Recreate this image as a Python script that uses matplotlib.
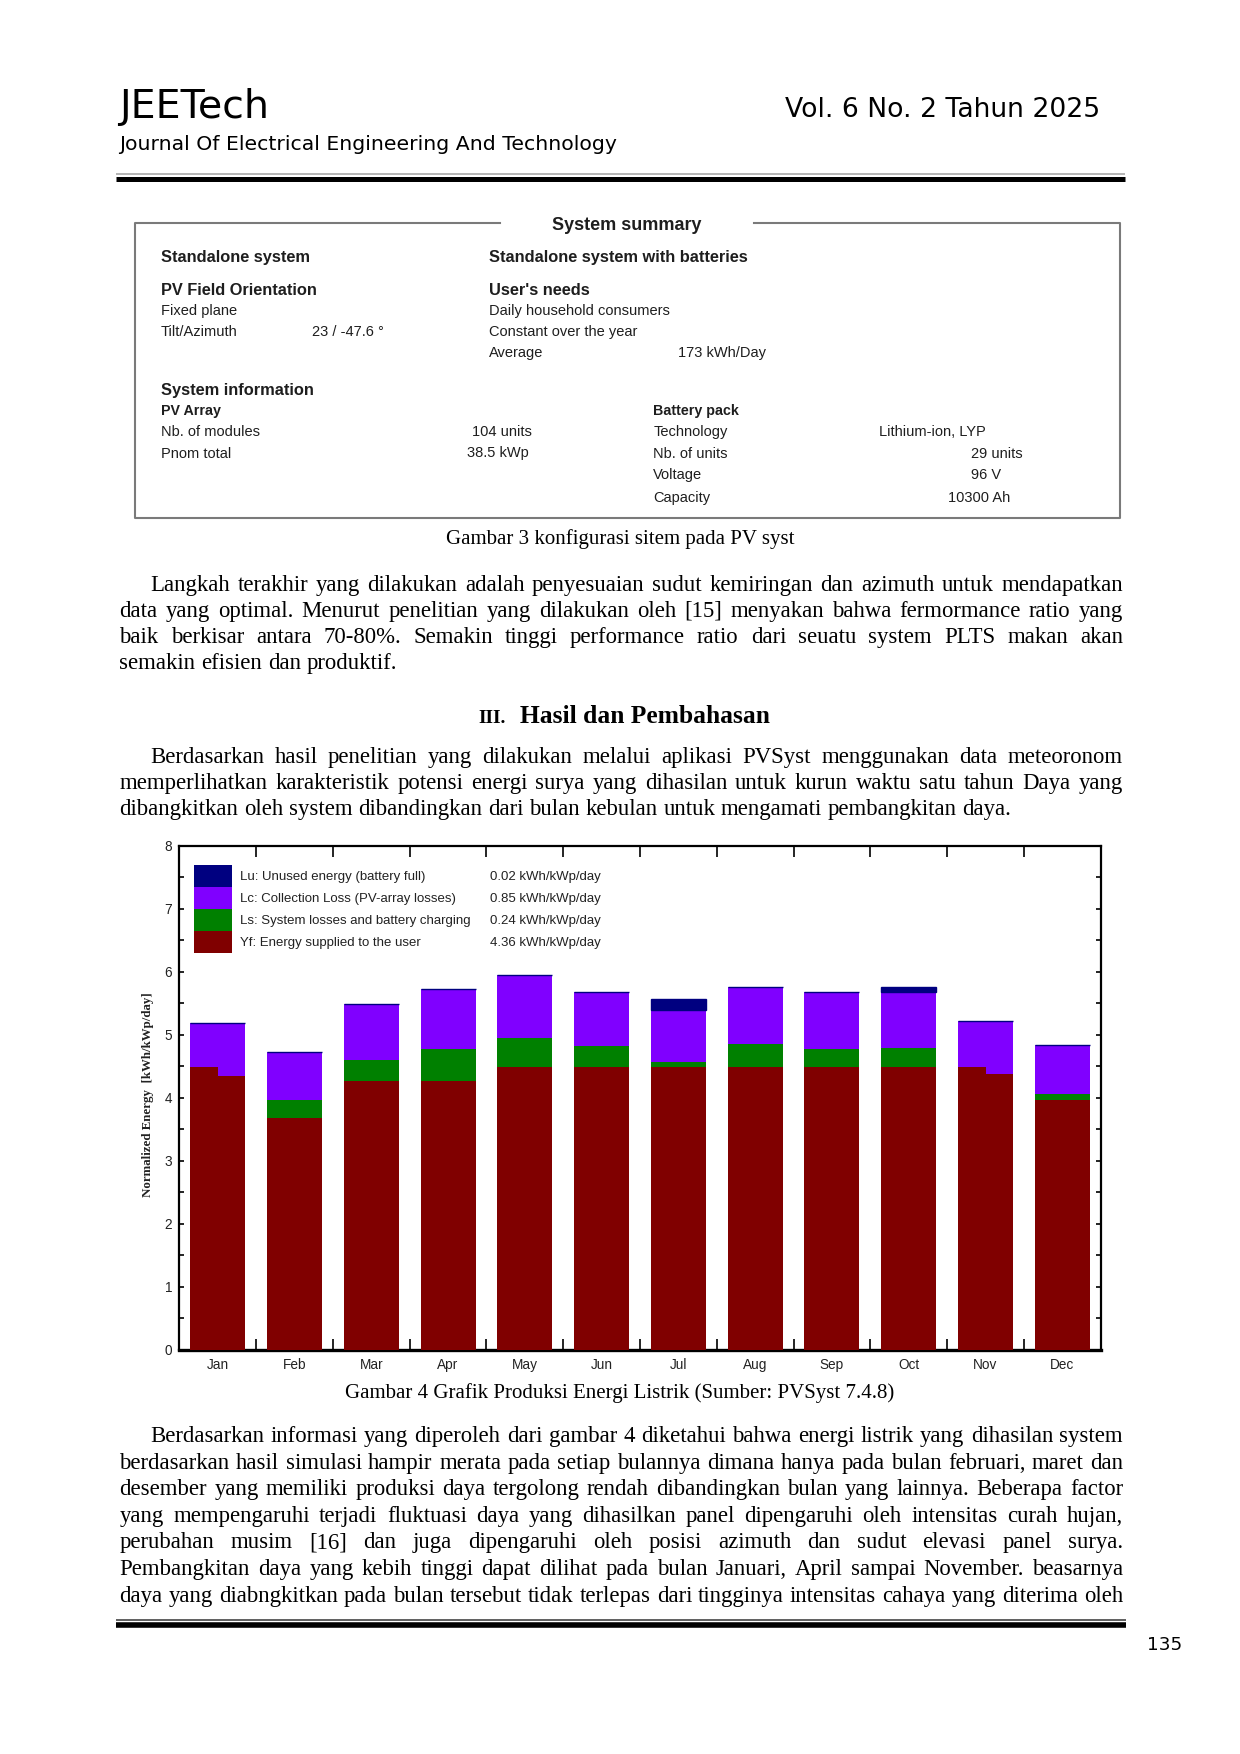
import matplotlib
matplotlib.use('Agg')
import matplotlib.pyplot as plt
from matplotlib import font_manager
from matplotlib.lines import Line2D
from matplotlib.patches import Rectangle
import numpy as np

W, H = 1240, 1754

# ---------------- data ----------------
months = ['Jan', 'Feb', 'Mar', 'Apr', 'May', 'Jun', 'Jul', 'Aug', 'Sep', 'Oct', 'Nov', 'Dec']
yf = [4.34, 3.68, 4.27, 4.27, 4.48, 4.48, 4.48, 4.48, 4.48, 4.48, 4.37, 3.97]
yf_left = [4.48, 3.68, 4.27, 4.27, 4.48, 4.48, 4.48, 4.48, 4.48, 4.48, 4.48, 3.97]
ls = [0.00, 0.29, 0.33, 0.50, 0.47, 0.34, 0.09, 0.38, 0.29, 0.31, 0.00, 0.09]
lc = [0.84, 0.76, 0.89, 0.96, 0.99, 0.86, 0.82, 0.89, 0.91, 0.89, 0.84, 0.78]
lu = [0.00, 0.00, 0.00, 0.00, 0.00, 0.00, 0.18, 0.00, 0.00, 0.08, 0.00, 0.00]

legend_labels = ['Lu: Unused energy (battery full)',
                 'Lc: Collection Loss (PV-array losses)',
                 'Ls: System losses and battery charging',
                 'Yf: Energy supplied to the user']
legend_values = ['0.02 kWh/kWp/day', '0.85 kWh/kWp/day', '0.24 kWh/kWp/day', '4.36 kWh/kWp/day']
C_YF, C_LS, C_LC, C_LU = '#800000', '#008000', '#8000FF', '#000080'
legend_colors = [C_LU, C_LC, C_LS, C_YF]

# ---------------- fonts ----------------
avail = {f.name for f in font_manager.fontManager.ttflist}
NARROW = 'Liberation Sans Narrow' if 'Liberation Sans Narrow' in avail else 'Liberation Sans'
ARIAL = 'Liberation Sans'
SERIF = 'Liberation Serif'
HEAD = 'DejaVu Sans'

fig = plt.figure(figsize=(W / 100, H / 100), dpi=100)
fig.patch.set_facecolor('white')
renderer = fig.canvas.get_renderer()


def ftext(x, y, s, **kw):
    return fig.text(x / W, 1 - y / H, s, **kw)


def wid(t):
    return t.get_window_extent(renderer).width


def fit_text(x, y, s, target_w, family, **kw):
    t = ftext(x, y, s, fontsize=20, family=family, **kw)
    t.set_fontsize(20 * target_w / wid(t))
    return t


def put_line(line, x0, x1, y, size, family, justify=True, **kw):
    words = line.split()
    ts = [ftext(x0, y, w, fontsize=size, family=family, va='baseline', **kw) for w in words]
    ws = [wid(t) for t in ts]
    if justify and len(words) > 1:
        gap = (x1 - x0 - sum(ws)) / (len(words) - 1)
    else:
        gap = size * 0.25 * 100 / 72
    x = x0
    for t, w in zip(ts, ws):
        t.set_x(x / W)
        x += w + gap


def hline(x0, x1, y, lw, color):
    fig.add_artist(Line2D([x0 / W, x1 / W], [1 - y / H, 1 - y / H], lw=lw, color=color,
                          transform=fig.transFigure, solid_capstyle='butt'))


# ---------------- header ----------------
fit_text(119.5, 118, 'JEETech', 150, HEAD, va='baseline', color='black')
fit_text(119.5, 149.5, 'Journal Of Electrical Engineering And Technology', 497, HEAD,
         va='baseline', color='black')
fit_text(1100, 117, 'Vol. 6 No. 2 Tahun 2025', 315, HEAD, va='baseline', ha='right', color='black')
hline(116, 1125, 174, 1.1, '#a0a0a0')
hline(116, 1125, 178.5, 3.6, 'black')

# ---------------- system summary box ----------------
BOXC = '#7a7a7a'
xs = [500, 135, 135, 1120, 1120, 754]
ys = [222.7, 222.7, 518, 518, 222.7, 222.7]
fig.add_artist(Line2D([v / W for v in xs], [1 - v / H for v in ys], lw=1.5, color=BOXC,
                      transform=fig.transFigure))
TC = '#1e1e1e'
ftext(627, 230.5, 'System summary', fontsize=13, family=ARIAL, weight='bold', ha='center',
      va='baseline', color=TC)
big = dict(fontsize=11.8, family=ARIAL, weight='bold', va='baseline', color=TC)
reg = dict(fontsize=10.5, family=ARIAL, va='baseline', color=TC)
sbold = dict(fontsize=10.3, family=ARIAL, weight='bold', va='baseline', color=TC)
ftext(161, 261.6, 'Standalone system', **big)
ftext(161, 294.9, 'PV Field Orientation', **big)
ftext(161, 314.5, 'Fixed plane', **reg)
ftext(161, 335.9, 'Tilt/Azimuth', **reg)
ftext(311.7, 335.9, '23 / -47.6 °', **reg)
ftext(489.3, 261.6, 'Standalone system with batteries', **big)
ftext(489.3, 294.9, "User's needs", **big)
ftext(489.3, 314.5, 'Daily household consumers', **reg)
ftext(489.3, 335.9, 'Constant over the year', **reg)
ftext(489.3, 357.5, 'Average', **reg)
ftext(678.3, 357.5, '173 kWh/Day', **reg)
ftext(161, 394.9, 'System information', **big)
ftext(161, 414.5, 'PV Array', **sbold)
ftext(161, 435.9, 'Nb. of modules', **reg)
ftext(471.7, 435.9, '104 units', **reg)
ftext(161, 457.5, 'Pnom total', **reg)
ftext(466.7, 457.5, '38.5 kWp', **reg)
ftext(653.3, 414.5, 'Battery pack', **sbold)
ftext(653.3, 435.9, 'Technology', **reg)
ftext(879.3, 435.9, 'Lithium-ion, LYP', **reg)
ftext(653.3, 457.5, 'Nb. of units', **reg)
ftext(971, 457.5, '29 units', **reg)
ftext(653.3, 479.2, 'Voltage', **reg)
ftext(971, 479.2, '96 V', **reg)
ftext(653.3, 501.9, 'Capacity', **reg)
ftext(948.3, 501.9, '10300 Ah', **reg)

ftext(620, 544, 'Gambar 3 konfigurasi sitem pada PV syst', fontsize=15, family=SERIF,
      ha='center', va='baseline', color='black')

# ---------------- body text ----------------
BS = 16.4
XL, XR, XI = 119.5, 1123, 150
p1 = ['Langkah terakhir yang dilakukan adalah penyesuaian sudut kemiringan dan azimuth untuk mendapatkan',
      'data yang optimal. Menurut penelitian yang dilakukan oleh [15] menyakan bahwa fermormance ratio yang',
      'baik berkisar antara 70-80%. Semakin tinggi performance ratio dari seuatu system PLTS makan akan',
      'semakin efisien dan produktif.']
for i, line in enumerate(p1):
    put_line(line, XI if i == 0 else XL, XR, 591 + 26 * i, BS, SERIF,
             justify=(i < len(p1) - 1), color='black')

ftext(478, 723, 'III.', fontsize=14, family=SERIF, weight='bold', va='baseline', color='black')
ftext(520, 723, 'Hasil dan Pembahasan', fontsize=18.4, family=SERIF, weight='bold',
      va='baseline', color='black')

p2 = ['Berdasarkan hasil penelitian yang dilakukan melalui aplikasi PVSyst menggunakan data meteoronom',
      'memperlihatkan karakteristik potensi energi surya yang dihasilan untuk kurun waktu satu tahun Daya yang',
      'dibangkitkan oleh system dibandingkan dari bulan kebulan untuk mengamati pembangkitan daya.']
for i, line in enumerate(p2):
    put_line(line, XI if i == 0 else XL, XR, 763 + 26 * i, BS, SERIF,
             justify=(i < len(p2) - 1), color='black')

ftext(620, 1398, 'Gambar 4 Grafik Produksi Energi Listrik (Sumber: PVSyst 7.4.8)', fontsize=15,
      family=SERIF, ha='center', va='baseline', color='black')

p3 = ['Berdasarkan informasi yang diperoleh dari gambar 4 diketahui bahwa energi listrik yang dihasilan system',
      'berdasarkan hasil simulasi hampir merata pada setiap bulannya dimana hanya pada bulan februari, maret dan',
      'desember yang memiliki produksi daya tergolong rendah dibandingkan bulan yang lainnya. Beberapa factor',
      'yang mempengaruhi terjadi fluktuasi daya yang dihasilkan panel dipengaruhi oleh intensitas curah hujan,',
      'perubahan musim [16] dan juga dipengaruhi oleh posisi azimuth dan sudut elevasi panel surya.',
      'Pembangkitan daya yang kebih tinggi dapat dilihat pada bulan Januari, April sampai November. beasarnya',
      'daya yang diabngkitkan pada bulan tersebut tidak terlepas dari tingginya intensitas cahaya yang diterima oleh']
for i, line in enumerate(p3):
    put_line(line, XI if i == 0 else XL, XR, 1442 + 26.6 * i, BS, SERIF, justify=True, color='black')

# footer
hline(116, 1126, 1620, 1.2, '#444444')
hline(116, 1126, 1625, 4.0, 'black')
fit_text(1147, 1650, '135', 35, HEAD, va='baseline', color='black')

# ---------------- chart ----------------
AX_L, AX_R, AX_T, AX_B = 179.3, 1100.7, 845.7, 1349.7
ax = fig.add_axes([AX_L / W, 1 - AX_B / H, (AX_R - AX_L) / W, (AX_B - AX_T) / H])
x = np.arange(len(months))
yf_a, yfl_a, ls_a, lc_a, lu_a = map(np.array, (yf, yf_left, ls, lc, lu))
bw = 0.716
ax.bar(x, yf_a, bw, color=C_YF, lw=0, zorder=3)
ax.bar(x, ls_a, bw, bottom=yf_a, color=C_LS, lw=0, zorder=3)
b2 = yf_a + ls_a
ax.bar(x, lc_a, bw, bottom=b2, color=C_LC, lw=0, zorder=3)
b3 = b2 + lc_a
ax.bar(x, lu_a, bw, bottom=b3, color=C_LU, edgecolor=C_LU, lw=1.0, zorder=3)
extra = yfl_a - yf_a
m = extra > 0
ax.bar(x[m] - bw / 4, extra[m], bw / 2, bottom=yf_a[m], color=C_YF, lw=0, zorder=3.5)

ax.set_xlim(-0.5, 11.5)
ax.set_ylim(0, 8)
for s in ax.spines.values():
    s.set_linewidth(1.6)
    s.set_color('black')
    s.set_zorder(2)
ax.spines['bottom'].set_linewidth(2.4)

ax.set_xticks(x)
ax.set_xticklabels(months)
ax.set_xticks(np.arange(0.5, 11, 1), minor=True)
ax.tick_params(axis='x', which='major', length=0, pad=6, labelsize=9.8, labelcolor='#222222')
ax.tick_params(axis='x', which='minor', direction='in', length=8, width=1.2, top=True, bottom=True)
ax.set_yticks(range(9))
ax.set_yticks(np.arange(0.5, 8, 1), minor=True)
ax.tick_params(axis='y', which='both', direction='in', length=3.5, width=1.2, left=True, right=True)
ax.tick_params(axis='y', which='major', pad=5, labelsize=9.8, labelcolor='#222222')
for lab in ax.get_xticklabels() + ax.get_yticklabels():
    lab.set_family(NARROW)

ylab = ax.set_ylabel('Normalized Energy  [kWh/kWp/day]', family=SERIF, fontweight='bold',
                     fontsize=10, color='#222222')
ylab.set_verticalalignment('center')
h0 = ylab.get_window_extent(renderer).height
ylab.set_fontsize(10 * 206 / h0)
ax.yaxis.set_label_coords((148 - AX_L) / (AX_R - AX_L), (AX_B - 1095) / (AX_B - AX_T))

# legend block (inside axes, top-left)
row_h = 22 / (AX_B - AX_T)
top = (AX_B - 865) / (AX_B - AX_T)
sw_x, sw_w = (194 - AX_L) / (AX_R - AX_L), 38 / (AX_R - AX_L)
tx = (240 - AX_L) / (AX_R - AX_L)
vx = (490 - AX_L) / (AX_R - AX_L)
tmp = ax.text(0, 0, legend_labels[2], fontsize=20, family=NARROW, transform=ax.transAxes)
lsize = 20 * 230 / wid(tmp)
tmp.remove()
for i, (c, lab, val) in enumerate(zip(legend_colors, legend_labels, legend_values)):
    yt = top - i * row_h
    ax.add_patch(Rectangle((sw_x, yt - row_h), sw_w, row_h, transform=ax.transAxes,
                           facecolor=c, lw=0, zorder=4))
    ax.text(tx, yt - row_h / 2 - 0.002, lab, transform=ax.transAxes, va='center', ha='left',
            fontsize=lsize, family=NARROW, color='#222222', zorder=4)
    ax.text(vx, yt - row_h / 2 - 0.002, val, transform=ax.transAxes, va='center', ha='left',
            fontsize=lsize, family=NARROW, color='#222222', zorder=4)

fig.savefig('out.png', dpi=100, facecolor='white')
